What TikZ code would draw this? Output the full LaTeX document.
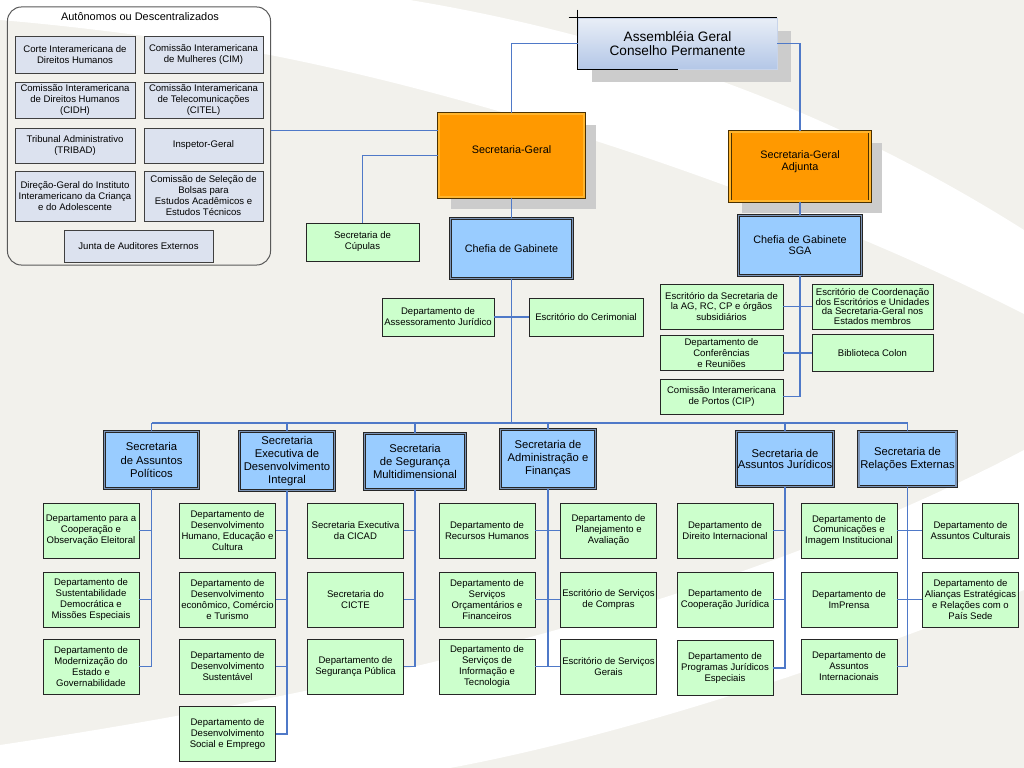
\documentclass[tikz,border=0pt]{standalone}
\usepackage{fontspec}
\setmainfont{Liberation Sans}
\usepackage{tikz}
\usetikzlibrary{calc,shadows}
\definecolor{bgbeige}{HTML}{F2F1EC}
\definecolor{linkblue}{HTML}{4F79C8}
\definecolor{headfill}{HTML}{FF9900}
\definecolor{headgap}{HTML}{FFB52E}
\definecolor{headline}{HTML}{4A3000}
\definecolor{chieffill}{HTML}{99CCFF}
\definecolor{bluegap}{HTML}{7C95B8}
\definecolor{deptfill}{HTML}{CCFFCC}
\definecolor{autfill}{HTML}{DCE2EF}
\definecolor{agtop}{HTML}{E8EEF7}
\definecolor{agbot}{HTML}{B4C7E7}
\definecolor{agline}{HTML}{C8D4EA}

\begin{document}
\begin{tikzpicture}[x=0.025cm,y=-0.025cm,
  boxbase/.style={rectangle,inner sep=1pt,align=center,font=\fontsize{6.8}{7.8}\selectfont},
  panel/.style={rectangle,draw=black!65,line width=0.7pt,rounded corners=0.35cm,minimum width=6.575cm,minimum height=6.45cm},
  autbox/.style={boxbase,draw=black!75,line width=0.5pt,fill=autfill,minimum width=3cm,minimum height=0.925cm},
  deptbox/.style={boxbase,draw=black!85,line width=0.6pt,fill=deptfill,minimum width=2.4cm,minimum height=1.375cm},
  chiefbox/.style={boxbase,draw=black!85,line width=0.5pt,double=bluegap,double distance=1.2pt,fill=chieffill,
                   font=\fontsize{8}{9.3}\selectfont,minimum width=2.35cm,minimum height=1.42cm},
  headbox/.style={boxbase,draw=headline,line width=0.6pt,double=headgap,double distance=1.3pt,fill=headfill,
                  font=\fontsize{7.7}{8.8}\selectfont,
                  drop shadow={shadow xshift=0.3cm,shadow yshift=-0.29cm,fill=black!20,opacity=1}},
  councilbox/.style={boxbase,font=\fontsize{9.7}{10.5}\selectfont,top color=agtop,bottom color=agbot,draw=agline,
                     line width=0.4pt,minimum width=4.975cm,minimum height=1.275cm,
                     drop shadow={shadow xshift=0.35cm,shadow yshift=-0.325cm,fill=black!20,opacity=1}},
  conn/.style={draw=linkblue,line width=0.85pt}
]
  \useasboundingbox (0,0) rectangle (1024,768);
  \fill[bgbeige] (0,0) rectangle (1024,768);
  \fill[white] (0,0) -- (410,0) .. controls (650,40) and (850,120) .. (1024,230) -- (1024,314)
    .. controls (800,200) and (500,100) .. (270,55) .. controls (150,35) and (60,25) .. (0,20) -- cycle;
  \fill[white] (0,745) .. controls (300,700) and (700,620) .. (1024,450) -- (1024,590)
    .. controls (800,680) and (600,740) .. (450,768) -- (0,768) -- cycle;

  \node[panel] (auton) at (139,136) {};
  \node[font=\fontsize{7.8}{8}\selectfont] (autt) at (140,17) {Autônomos ou Descentralizados};
  \node[autbox] (corte) at (75,54.5) {Corte Interamericana de\\Direitos Humanos};
  \node[autbox,minimum width=2.975cm] (cim) at (203.5,54.5) {Comissão Interamericana\\de Mulheres (CIM)};
  \node[autbox,minimum height=0.9cm] (cidh) at (75,100) {Comissão Interamericana\\de Direitos Humanos\\(CIDH)};
  \node[autbox,minimum width=2.975cm,minimum height=0.9cm] (citel) at (203.5,100) {Comissão Interamericana\\de Telecomunicações\\(CITEL)};
  \node[autbox,minimum height=0.875cm] (tribad) at (75,145.5) {Tribunal Administrativo\\(TRIBAD)};
  \node[autbox,minimum width=2.975cm,minimum height=0.875cm] (insp) at (203.5,145.5) {Inspetor-Geral};
  \node[autbox,minimum height=1.25cm] (iin) at (75,196) {Direção-Geral do Instituto\\Interamericano da Criança\\e do Adolescente};
  \node[autbox,minimum width=2.975cm,minimum height=1.25cm] (bolsas) at (203.5,196) {Comissão de Seleção de\\Bolsas para\\Estudos Acadêmicos e\\Estudos Técnicos};
  \node[autbox,minimum width=3.725cm,minimum height=0.8cm] (junta) at (138.5,246) {Junta de Auditores Externos};

  \node[councilbox] (ag) at (677.5,43.5) {Assembléia Geral\\Conselho Permanente};
  \draw[line width=0.7pt] ($(ag.north west)+(-9,0)$) -- (ag.north east);
  \draw[line width=0.7pt] ($(ag.north west)+(0,-8)$) -- (ag.south west) -- ($(ag.south west)+(100,0)$);

  \node[headbox,minimum width=3.64cm,minimum height=2.09cm] (sg) at (511.5,155.5) {Secretaria-Geral\\\mbox{}};
  \node[headbox,minimum width=3.51cm,minimum height=1.74cm] (sga) at (800,166.5) {Secretaria-Geral\\Adjunta\\\mbox{}};
  \node[chiefbox,font=\fontsize{7.7}{7.8}\selectfont,minimum width=3.05cm,minimum height=1.5cm] (cg) at (511.5,248.5) {Chefia de Gabinete};
  \node[chiefbox,font=\fontsize{7.7}{7.8}\selectfont,minimum width=3.07cm,minimum height=1.5cm] (cgs) at (800,245.5) {Chefia de Gabinete\\SGA};

  \node[deptbox,minimum width=2.825cm,minimum height=0.95cm] (cup) at (362.5,242) {Secretaria de\\Cúpulas};
  \node[deptbox,minimum width=2.8cm,minimum height=0.95cm] (das) at (438,317) {Departamento de\\Assessoramento Jurídico};
  \node[deptbox,minimum width=2.85cm,minimum height=0.95cm] (cer) at (586,317) {Escritório do Cerimonial};
  \node[deptbox,minimum width=3.075cm,minimum height=1.125cm] (esa) at (721.5,306.5) {Escritório da Secretaria de\\la AG, RC, CP e órgãos\\subsidiários};
  \node[deptbox,minimum width=3.025cm,minimum height=1.125cm,font=\fontsize{6.8}{6.7}\selectfont] (eco) at (872.5,306.5) {Escritório de Coordenação\\dos Escritórios e Unidades\\da Secretaria-Geral nos\\Estados membros};
  \node[deptbox,minimum width=3.075cm,minimum height=0.875cm] (dcr) at (721.5,353) {Departamento de\\Conferências\\e Reuniões};
  \node[deptbox,minimum width=3.025cm,minimum height=0.925cm] (bib) at (872.5,353) {Biblioteca Colon};
  \node[deptbox,minimum width=3.075cm,minimum height=0.875cm] (cip) at (721.5,396.5) {Comissão Interamericana\\de Portos (CIP)};

  \node[chiefbox] (sap) at (151.5,460) {Secretaria\\de Assuntos\\Políticos};
  \node[chiefbox,minimum width=2.37cm,minimum height=1.47cm] (sedi) at (287,461) {Secretaria\\Executiva de\\Desenvolvimento\\Integral};
  \node[chiefbox,minimum width=2.52cm,minimum height=1.4cm] (ssm) at (415,461.5) {Secretaria\\de Segurança\\Multidimensional};
  \node[chiefbox,minimum width=2.37cm,minimum height=1.47cm] (saf) at (548,459) {Secretaria de\\Administração e\\Finanças};
  \node[chiefbox,minimum width=2.32cm,minimum height=1.37cm,font=\fontsize{8}{7.4}\selectfont] (saj) at (785,459) {Secretaria de\\Assuntos Jurídicos};
  \node[chiefbox,minimum height=1.37cm] (sre) at (907.5,459) {Secretaria de\\Relações Externas};

  \node[deptbox] (sap1) at (91,530.5) {Departamento para a\\Cooperação e\\Observação Eleitoral};
  \node[deptbox] (sap2) at (91,599.5) {Departamento de\\Sustentabilidade\\Democrática e\\Missões Especiais};
  \node[deptbox] (sap3) at (91,666.5) {Departamento de\\Modernização do\\Estado e\\Governabilidade};
  \node[deptbox] (sedi1) at (227.5,530.5) {Departamento de\\Desenvolvimento\\Humano, Educação e\\Cultura};
  \node[deptbox] (sedi2) at (227.5,599.5) {Departamento de\\Desenvolvimento\\econômico, Comércio\\e Turismo};
  \node[deptbox] (sedi3) at (227.5,666.5) {Departamento de\\Desenvolvimento\\Sustentável};
  \node[deptbox] (sedi4) at (227.5,734) {Departamento de\\Desenvolvimento\\Social e Emprego};
  \node[deptbox] (ssm1) at (355.5,530.5) {Secretaria Executiva\\da CICAD};
  \node[deptbox] (ssm2) at (355.5,599.5) {Secretaria do\\CICTE};
  \node[deptbox] (ssm3) at (355.5,666.5) {Departamento de\\Segurança Pública};
  \node[deptbox] (saf1) at (487,530.5) {Departamento de\\Recursos Humanos};
  \node[deptbox] (saf2) at (487,599.5) {Departamento de\\Serviços\\Orçamentários e\\Financeiros};
  \node[deptbox] (saf3) at (487,666.5) {Departamento de\\Serviços de\\Informação e\\Tecnologia};
  \node[deptbox] (saf4) at (608.5,530.5) {Departamento de\\Planejamento e\\Avaliação};
  \node[deptbox] (saf5) at (608.5,599.5) {Escritório de Serviços\\de Compras};
  \node[deptbox] (saf6) at (608.5,666.5) {Escritório de Serviços\\Gerais};
  \node[deptbox] (saj1) at (725,530.5) {Departamento de\\Direito Internacional};
  \node[deptbox] (saj2) at (725,599.5) {Departamento de\\Cooperação Jurídica};
  \node[deptbox] (saj3) at (725,668) {Departamento de\\Programas Jurídicos\\Especiais};
  \node[deptbox] (sre1) at (849,530.5) {Departamento de\\Comunicações e\\Imagem Institucional};
  \node[deptbox] (sre2) at (849,599.5) {Departamento de\\ImPrensa};
  \node[deptbox] (sre3) at (849,666.5) {Departamento de\\Assuntos\\Internacionais};
  \node[deptbox] (sre4) at (970.5,530.5) {Departamento de\\Assuntos Culturais};
  \node[deptbox] (sre5) at (970.5,599.5) {Departamento de\\Alianças Estratégicas\\e Relações com o\\País Sede};

  \coordinate (sgtap) at ($(sg.west)+(0,-25)$);
  \coordinate (bus) at (0,423);
  \draw[conn] (auton.east |- sgtap) -- (sgtap);
  \draw[conn] (ag.west) -| (sg.north);
  \draw[conn] (ag.east) -| (sga.north);
  \draw[conn] (sg.west) -| (cup.north);
  \draw[conn] (sg.south) -- (cg.north);
  \draw[conn] (sga.south) -- (cgs.north);
  \draw[conn] (cg.south) -- (cg.south |- bus);
  \draw[conn] (das.east) -- (cer.west);
  \draw[conn] (cgs.south) |- (cip.east);
  \draw[conn] (esa.east) -- (eco.west);
  \draw[conn] (dcr.east) -- (bib.west);

  \draw[conn] (sap.north |- bus) -- (sre.north |- bus);
  \draw[conn] (sap.north |- bus) -- (sap.north);
  \draw[conn] (sedi.north |- bus) -- (sedi.north);
  \draw[conn] (ssm.north |- bus) -- (ssm.north);
  \draw[conn] (saf.north |- bus) -- (saf.north);
  \draw[conn] (saj.north |- bus) -- (saj.north);
  \draw[conn] (sre.north |- bus) -- (sre.north);

  \draw[conn] (sap.south) |- (sap3.east);
  \draw[conn] (sap1.east) -- (sap1.east -| sap.south);
  \draw[conn] (sap2.east) -- (sap2.east -| sap.south);
  \draw[conn] (sedi.south) |- (sedi4.east);
  \draw[conn] (sedi1.east) -- (sedi1.east -| sedi.south);
  \draw[conn] (sedi2.east) -- (sedi2.east -| sedi.south);
  \draw[conn] (sedi3.east) -- (sedi3.east -| sedi.south);
  \draw[conn] (ssm.south) |- (ssm3.east);
  \draw[conn] (ssm1.east) -- (ssm1.east -| ssm.south);
  \draw[conn] (ssm2.east) -- (ssm2.east -| ssm.south);
  \draw[conn] (saf.south) |- (saf3.east);
  \draw[conn] (saf1.east) -- (saf4.west);
  \draw[conn] (saf2.east) -- (saf5.west);
  \draw[conn] (saf3.east) -- (saf6.west);
  \draw[conn] (saj.south) |- (saj3.east);
  \draw[conn] (saj1.east) -- (saj1.east -| saj.south);
  \draw[conn] (saj2.east) -- (saj2.east -| saj.south);
  \draw[conn] (sre.south) |- (sre3.east);
  \draw[conn] (sre1.east) -- (sre4.west);
  \draw[conn] (sre2.east) -- (sre5.west);
\end{tikzpicture}
\end{document}
